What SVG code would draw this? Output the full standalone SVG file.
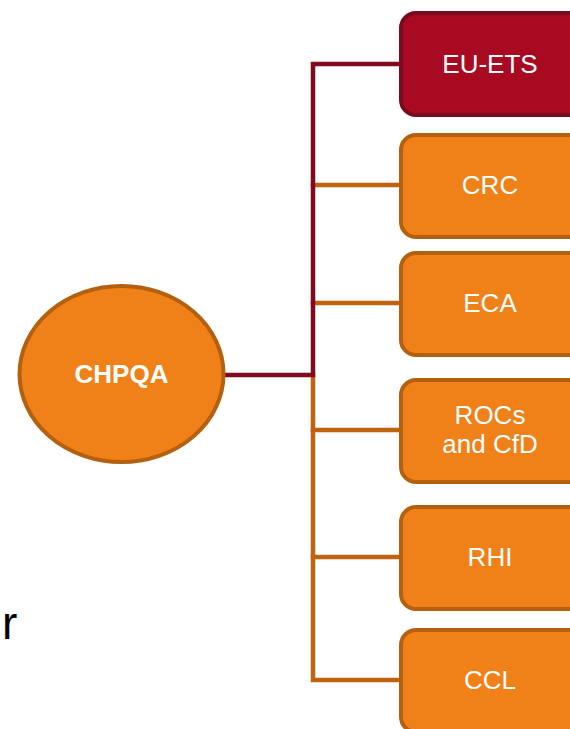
<svg xmlns="http://www.w3.org/2000/svg" width="570" height="729" viewBox="0 0 570 729">
  <style>
    .box { fill: #ef8118; stroke: #b5600f; stroke-width: 4; }
    .box-red { fill: #a80a22; stroke: #7a0a1e; stroke-width: 4; }
    .lbl { font-family: "Liberation Sans", Arial, sans-serif; font-size: 26px; fill: #ffffff; text-anchor: middle; }
    .bold { font-weight: bold; }
    .wire-o { stroke: #c0620f; stroke-width: 4.5; fill: none; stroke-linecap: square; }
    .wire-r { stroke: #820a1e; stroke-width: 4.5; fill: none; stroke-linecap: square; }
  </style>
  <rect width="570" height="729" fill="#ffffff"/>

  <!-- connectors -->
  <g id="connectors">
    <path class="wire-o" d="M313 375 V680 H400"/>
    <path class="wire-o" d="M313 185 H400 M313 303 H400 M313 430 H400 M313 557 H400"/>
    <path class="wire-r" d="M225 375 H313 V64 H400"/>
  </g>

  <!-- hub -->
  <g id="chpqa">
    <ellipse class="box" cx="121.5" cy="374" rx="102" ry="88"/>
    <text class="lbl bold" x="121.5" y="383">CHPQA</text>
  </g>

  <!-- schemes -->
  <g id="eu-ets">
    <rect class="box-red" x="401" y="13" width="185" height="102" rx="15"/>
    <text class="lbl" x="490" y="73">EU-ETS</text>
  </g>
  <g id="crc">
    <rect class="box" x="401" y="135" width="185" height="102" rx="15"/>
    <text class="lbl" x="490" y="194">CRC</text>
  </g>
  <g id="eca">
    <rect class="box" x="401" y="253" width="185" height="102" rx="15"/>
    <text class="lbl" x="490" y="312">ECA</text>
  </g>
  <g id="rocs">
    <rect class="box" x="401" y="380" width="185" height="102" rx="15"/>
    <text class="lbl" x="490" y="424">ROCs</text>
    <text class="lbl" x="490" y="453">and CfD</text>
  </g>
  <g id="rhi">
    <rect class="box" x="401" y="507" width="185" height="102" rx="15"/>
    <text class="lbl" x="490" y="566">RHI</text>
  </g>
  <g id="ccl">
    <rect class="box" x="401" y="630" width="185" height="102" rx="15"/>
    <text class="lbl" x="490" y="689">CCL</text>
  </g>

  <text x="2" y="639" font-family="Liberation Sans, Arial, sans-serif" font-size="46" fill="#000000">r</text>
</svg>
